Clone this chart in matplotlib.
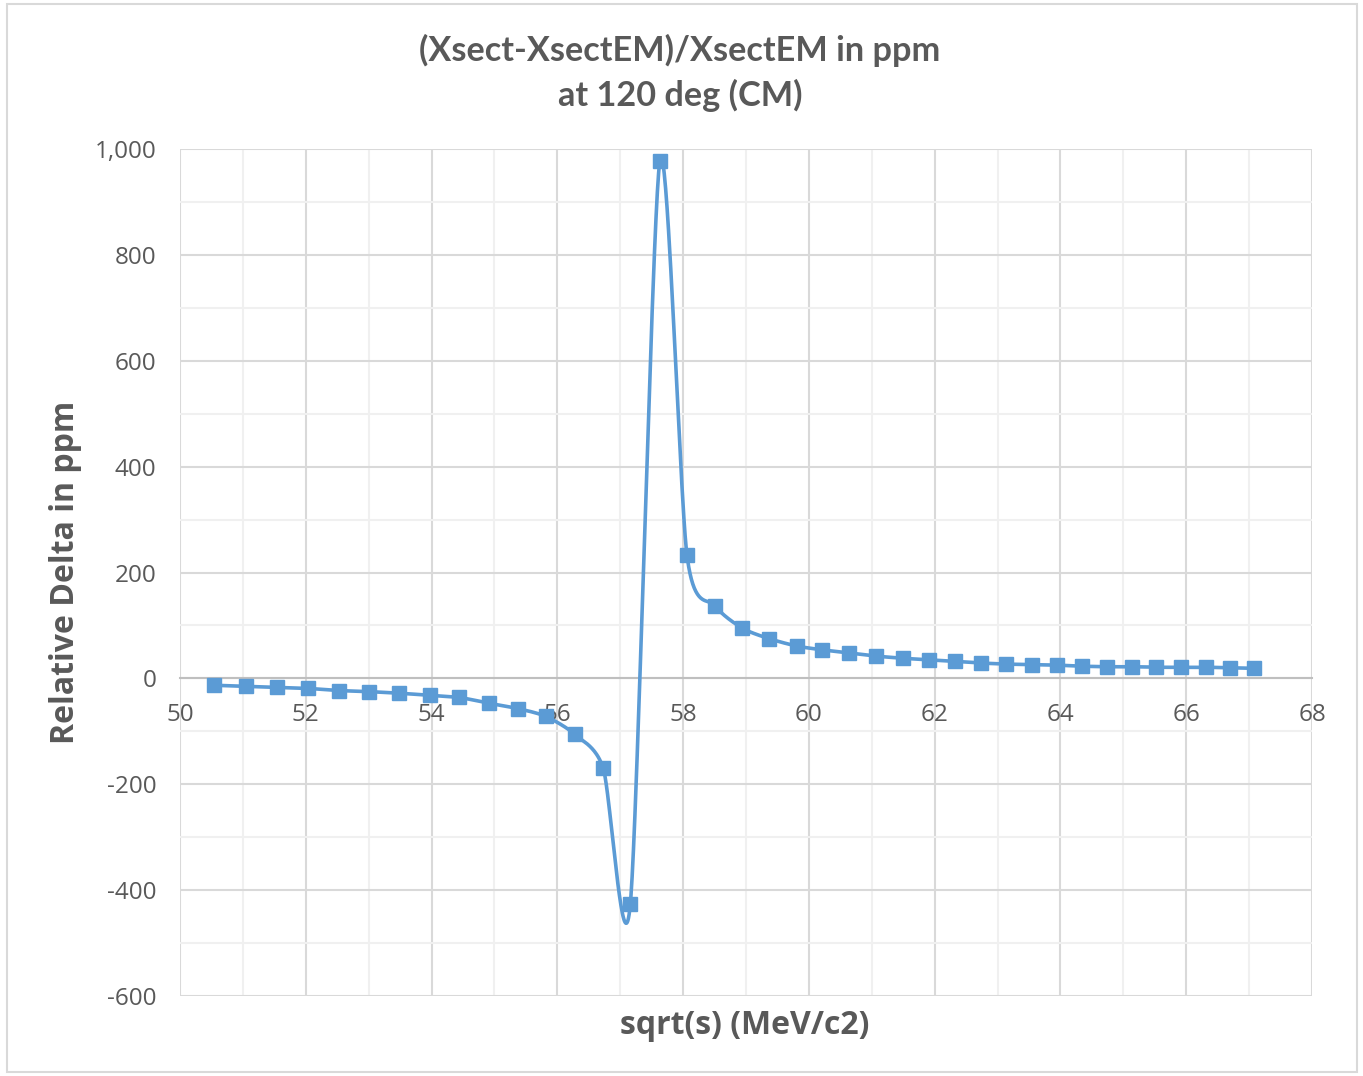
import numpy as np
import matplotlib
matplotlib.use("Agg")
import matplotlib.pyplot as plt
from matplotlib.patches import Rectangle

# ---- data ----
sqrt_s = [50.54, 51.05, 51.54, 52.04, 52.53, 53.00, 53.48, 53.98, 54.44, 54.91,
          55.37, 55.82, 56.28, 56.73, 57.16, 57.63, 58.06, 58.51, 58.94, 59.37,
          59.81, 60.21, 60.64, 61.07, 61.50, 61.91, 62.32, 62.74, 63.13, 63.55,
          63.95, 64.34, 64.74, 65.14, 65.52, 65.92, 66.31, 66.70, 67.08]
rel_delta = [-13, -15, -17, -19, -23, -25, -28, -32, -36, -47,
             -57, -72, -106, -170, -427, 977, 234, 137, 95, 75,
             61, 54, 48, 42, 38, 35, 32, 29, 27, 26,
             25, 23, 22, 22, 21, 21, 21, 20, 19]
x_ticks = [50, 52, 54, 56, 58, 60, 62, 64, 66, 68]
y_ticks = [-600, -400, -200, 0, 200, 400, 600, 800, 1000]
y_tick_labels = ["-600", "-400", "-200", "0", "200", "400", "600", "800", "1,000"]

title_1 = "(Xsect-XsectEM)/XsectEM in ppm"
title_2 = "at 120 deg (CM)"
xlabel = "sqrt(s) (MeV/c2)"
ylabel = "Relative Delta in ppm"

LINE = "#5B9BD5"
TXT = "#595959"
TITLE_FONT = ["Lato", "DejaVu Sans"]
FONT = ["Open Sans", "DejaVu Sans"]


def smooth(xs, ys, f=0.13, n=40):
    P = np.column_stack([xs, ys]).astype(float)
    out = []
    m = len(P)
    for i in range(m - 1):
        p0 = P[i - 1] if i > 0 else P[i]
        p1 = P[i]
        p2 = P[i + 1]
        p3 = P[i + 2] if i + 2 < m else P[i + 1]
        c1 = p1 + f * (p2 - p0)
        c2 = p2 - f * (p3 - p1)
        t = np.linspace(0, 1, n)[:, None]
        seg = ((1 - t) ** 3) * p1 + 3 * ((1 - t) ** 2) * t * c1 + 3 * (1 - t) * t ** 2 * c2 + t ** 3 * p2
        out.append(seg if i == 0 else seg[1:])
    s = np.vstack(out)
    return s[:, 0], s[:, 1]


fig = plt.figure(figsize=(13.63, 10.76), dpi=100)
fig.patch.set_facecolor("white")
fig.patches.append(Rectangle((7 / 1363, 4 / 1076), 1350 / 1363, 1068 / 1076,
                             transform=fig.transFigure, fill=False,
                             edgecolor="#D9D9D9", linewidth=1.5))

ax = fig.add_axes([180 / 1363, 1 - 996 / 1076, (1312 - 180) / 1363, (996 - 149) / 1076])
ax.set_xlim(50, 68)
ax.set_ylim(-600, 1000)

ax.set_xticks(x_ticks)
ax.set_xticks(np.arange(51, 68, 2), minor=True)
ax.set_yticks(y_ticks)
ax.set_yticklabels(y_tick_labels)
ax.set_yticks(np.arange(-500, 1000, 200), minor=True)
ax.grid(True, which="major", color="#D9D9D9", linewidth=1.5)
ax.grid(True, which="minor", color="#F0F0F0", linewidth=1.5)
ax.set_axisbelow(True)

for side in ["top", "right", "left"]:
    ax.spines[side].set_visible(False)
ax.spines["bottom"].set_position(("data", 0))
ax.spines["bottom"].set_color("#BFBFBF")
ax.spines["bottom"].set_linewidth(1.5)
ax.spines["bottom"].set_zorder(1)

ax.tick_params(axis="both", which="both", length=0)
ax.tick_params(axis="x", pad=18, labelsize=17.5, labelcolor=TXT)
ax.tick_params(axis="y", pad=17, labelsize=17.5, labelcolor=TXT)
for lab in ax.get_xticklabels() + ax.get_yticklabels():
    lab.set_family(FONT)

sx, sy = smooth(sqrt_s, rel_delta)
ax.plot(sx, sy, color=LINE, linewidth=2.6, zorder=3, solid_capstyle="round")
ax.plot(sqrt_s, rel_delta, linestyle="none", marker="s", markersize=9.5,
        color=LINE, zorder=4)

fig.text(680 / 1363, 1 - 50 / 1076, title_1, ha="center", va="center",
         fontsize=24.7, fontweight="bold", color=TXT, family=TITLE_FONT)
fig.text(680 / 1363, 1 - 95 / 1076, title_2, ha="center", va="center",
         fontsize=24.7, fontweight="bold", color=TXT, family=TITLE_FONT)
fig.text(745 / 1363, 1 - 1025 / 1076, xlabel, ha="center", va="center",
         fontsize=23, fontweight="bold", color=TXT, family=FONT)
fig.text(66 / 1363, 1 - 572 / 1076, ylabel, ha="center", va="center", rotation=90,
         fontsize=23, fontweight="bold", color=TXT, family=FONT)

fig.savefig("out.png", dpi=100, facecolor="white")
